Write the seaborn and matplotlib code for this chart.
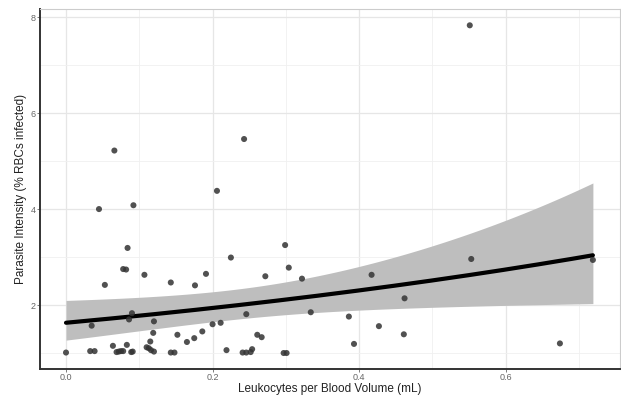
import numpy as np
import pandas as pd
import matplotlib
matplotlib.use("Agg")
import matplotlib.pyplot as plt
import seaborn as sns

# Observations: leukocyte density vs. parasite intensity
leukocytes = [
    0.000, 0.035, 0.033, 0.039, 0.045, 0.053, 0.064, 0.069, 0.072, 0.075,
    0.078, 0.078, 0.082, 0.084, 0.083, 0.086, 0.090, 0.089, 0.091, 0.092,
    0.066, 0.107, 0.110, 0.113, 0.116, 0.120, 0.115, 0.119, 0.120, 0.143,
    0.143, 0.148, 0.152, 0.165, 0.175, 0.176, 0.186, 0.191, 0.200, 0.206,
    0.211, 0.219, 0.225, 0.243, 0.246, 0.241, 0.246, 0.252, 0.254, 0.261,
    0.267, 0.272, 0.297, 0.301, 0.299, 0.304, 0.322, 0.334, 0.386, 0.393,
    0.417, 0.427, 0.461, 0.462, 0.551, 0.553, 0.674, 0.719,
]
intensity = [
    1.01, 1.57, 1.04, 1.04, 4.00, 2.42, 1.15, 1.02, 1.03, 1.04,
    1.04, 2.75, 2.74, 3.19, 1.17, 1.70, 1.83, 1.02, 1.03, 4.08,
    5.22, 2.63, 1.12, 1.10, 1.06, 1.03, 1.24, 1.42, 1.66, 2.47,
    1.01, 1.01, 1.38, 1.23, 1.31, 2.41, 1.45, 2.65, 1.60, 4.38,
    1.63, 1.06, 2.99, 5.46, 1.81, 1.01, 1.01, 1.02, 1.08, 1.38,
    1.33, 2.60, 1.00, 1.00, 3.25, 2.78, 2.55, 1.85, 1.76, 1.19,
    2.63, 1.56, 1.39, 2.14, 7.83, 2.96, 1.20, 2.94,
]

# Log-link regression fit: coefficients and their covariance
fit_intercept = 0.489
fit_slope = 0.865
cov_intercept = 0.0164
cov_cross = -0.0405
cov_slope = 0.1627
z_crit = 1.96

x_ticks = [0.0, 0.2, 0.4, 0.6]
y_ticks = [2, 4, 6, 8]

df = pd.DataFrame({"leuk": leukocytes, "para": intensity})

xs = np.linspace(df["leuk"].min(), df["leuk"].max(), 200)
eta = fit_intercept + fit_slope * xs
se = np.sqrt(cov_intercept + 2 * cov_cross * xs + cov_slope * xs ** 2)
fit = pd.DataFrame({
    "leuk": xs,
    "para": np.exp(eta),
    "lo": np.exp(eta - z_crit * se),
    "hi": np.exp(eta + z_crit * se),
})

sns.set_theme(style="whitegrid")
plt.rcParams["font.family"] = ["Liberation Sans", "DejaVu Sans"]

fig = plt.figure(figsize=(6.21, 3.96), dpi=100)
ax = fig.add_axes([40 / 621, 1 - 369 / 396, 580 / 621, 360 / 396])
ax.set_facecolor("white")

ax.fill_between(fit["leuk"], fit["lo"], fit["hi"], color="#bebebe",
                linewidth=0, zorder=2)
sns.lineplot(data=fit, x="leuk", y="para", color="black", linewidth=3.0,
             ax=ax, zorder=3)
sns.scatterplot(data=df, x="leuk", y="para", color="#333333", alpha=0.85,
                s=19, edgecolor="none", ax=ax, zorder=4)

ax.set_xlim(-0.0355, 0.756)
ax.set_ylim(0.667, 8.17)
ax.set_xticks(x_ticks)
ax.set_xticklabels([f"{t:.1f}" for t in x_ticks])
ax.set_yticks(y_ticks)
ax.set_yticklabels([str(t) for t in y_ticks])
ax.set_xticks([0.1, 0.3, 0.5, 0.7], minor=True)
ax.set_yticks([1, 3, 5, 7], minor=True)

ax.grid(which="major", color="#e6e6e6", linewidth=0.9)
ax.grid(which="minor", color="#f0f0f0", linewidth=0.6)
ax.set_axisbelow(True)

for side in ("top", "right"):
    ax.spines[side].set_color("#cccccc")
    ax.spines[side].set_linewidth(0.8)
for side in ("left", "bottom"):
    ax.spines[side].set_color("#333333")
    ax.spines[side].set_linewidth(1.4)

ax.tick_params(which="major", length=2, width=0.6, color="#666666",
               labelsize=6.5, labelcolor="#666666", pad=1, left=True,
               bottom=True)
ax.tick_params(which="minor", length=0)

ax.set_xlabel("Leukocytes per Blood Volume (mL)", fontsize=8.5,
              color="#222222")
ax.xaxis.set_label_coords(0.5, -0.040)
ax.set_ylabel("Parasite Intensity (% RBCs infected)", fontsize=8.5,
              color="#222222", labelpad=2.5)

fig.savefig("out.png", dpi=100)
